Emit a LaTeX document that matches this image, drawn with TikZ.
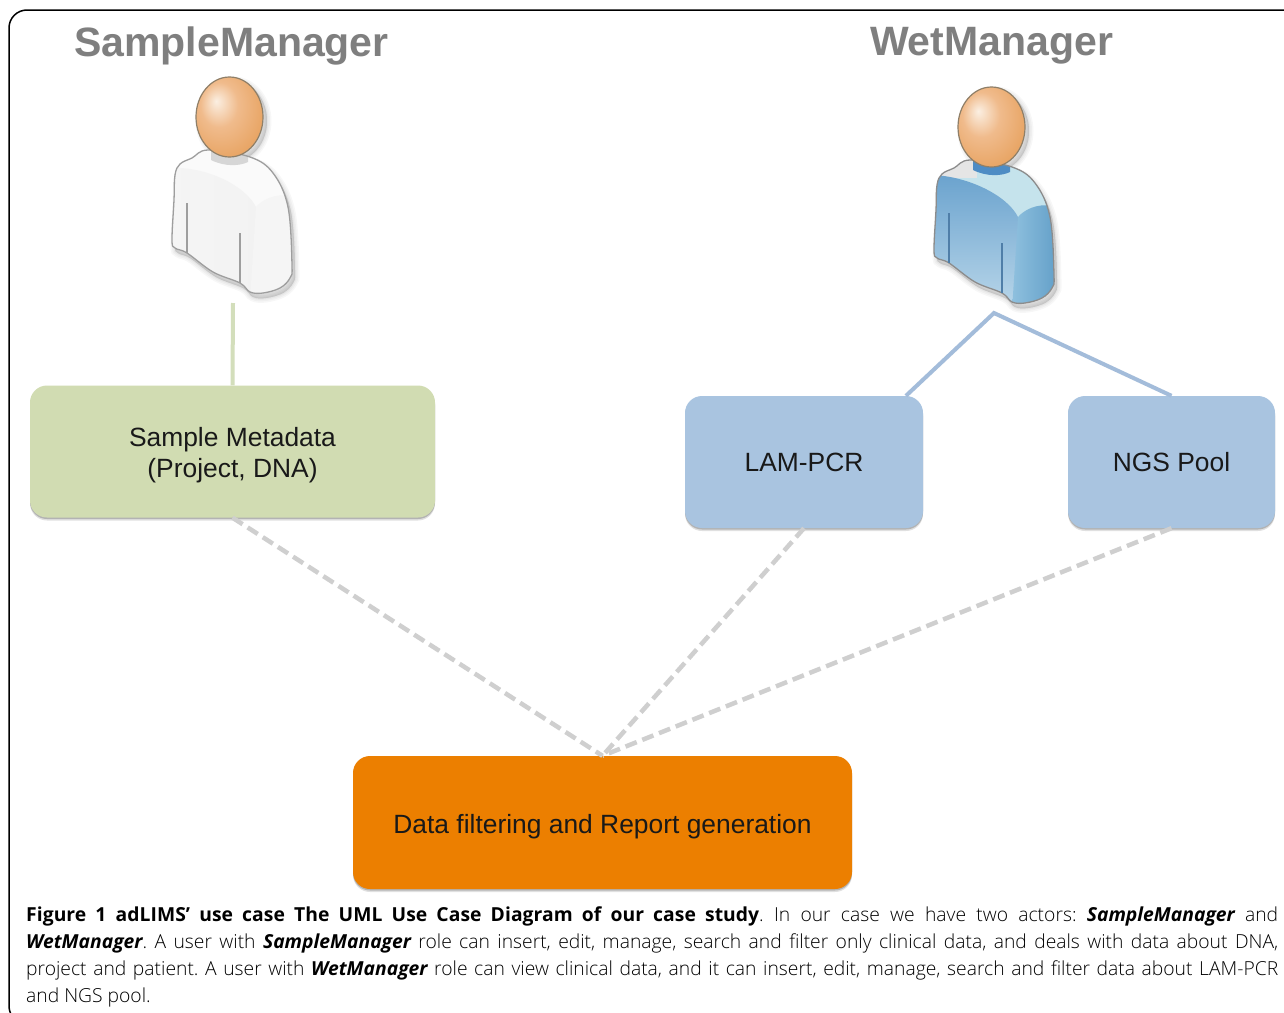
\documentclass[tikz,border=0pt]{standalone}
\usepackage{fontspec}
\setmainfont{Liberation Sans}
\newfontfamily\capfont{Open Sans Light}[BoldFont={Open Sans Bold},ItalicFont={Open Sans Light Italic},BoldItalicFont={Open Sans Bold Italic}]
\usetikzlibrary{
	shadows
}
\definecolor{greenbox}{HTML}{D1DCB2}
\definecolor{bluebox}{HTML}{A9C4E0}
\definecolor{orangebox}{HTML}{EC7F00}
\definecolor{greenline}{HTML}{D3DEBB}
\definecolor{blueline}{HTML}{A3BCDA}
\definecolor{dashline}{HTML}{CFCFCF}
\definecolor{titlegray}{HTML}{7F7F7F}
\definecolor{headlight}{HTML}{FBEFE2}
\definecolor{headmid}{HTML}{F0BB8C}
\definecolor{headdark}{HTML}{DF8C38}
\definecolor{headline}{HTML}{8F7F68}
\definecolor{coatlight}{HTML}{BAD7EA}
\definecolor{coatdark}{HTML}{6BA3CE}
\definecolor{armlight}{HTML}{8FC0DE}
\definecolor{armdark}{HTML}{5E9CC6}
\definecolor{collar}{HTML}{C5E3EC}
\definecolor{neck}{HTML}{4E8CC4}
\definecolor{foldblue}{HTML}{4F7EA8}
\pgfdeclareradialshading{headball}{\pgfpoint{-10bp}{10bp}}{
	color(0bp)=(headlight);
	color(14bp)=(headmid);
	color(50bp)=(headdark);
	color(60bp)=(headdark)
}
\def\actorbody{plot[smooth cycle,tension=0.6] coordinates {(208,150) (192,158) (180,164) (175,175) (174,200) (172,240) (175,248) (187,253) (213,272) (240,283) (250,292) (263,293) (280,288) (290,278) (292,265) (288,207) (273,173) (250,157)}}
\tikzset{
	box/.style={minimum height=132pt,inner sep=0pt,rounded corners=17pt,align=center,
		font=\fontsize{26.4}{31}\selectfont,text=black!90,
		drop shadow={shadow xshift=0pt,shadow yshift=-3pt,opacity=0.12,fill=black},
		drop shadow={shadow xshift=0pt,shadow yshift=-1.5pt,opacity=0.2,fill=black}},
	title/.style={font=\fontsize{41}{41}\selectfont\bfseries,text=titlegray,inner sep=0pt},
	solidline/.style={line width=4pt},
	dashline/.style={line width=4.5pt,draw=dashline,dash pattern=on 12pt off 6pt},
	softshadow/.style={draw=black,fill=black,opacity=0.03},
	outline/.style={draw=#1,line width=1.3pt},
	head/.style={shading=headball,draw=headline,line width=1.2pt}
}
\begin{document}
\begin{tikzpicture}[x=1pt,y=-1pt]
	% Frame
	\clip (0,0) rectangle (1284,1012);
	\fill[white] (0,0) rectangle (1284,1012);
	\draw[line width=1.5pt,rounded corners=18pt] (9,10) rectangle (1320,1024);
	% Titles
	\node[title] (sampletitle) at (231.5,46) {SampleManager};
	\node[title] (wettitle) at (991.5,46) {WetManager};
	% Connectors end here
	\coordinate (sampleend) at (233,303);
	\coordinate (wetend) at (994,313);
	% Use cases
	\node[box,fill=greenbox,minimum width=405pt] (metadata) at (232.5,451.5) {\raisebox{-4pt}[\height][\depth]{Sample Metadata}\\\raisebox{-4pt}[\height][\depth]{(Project, DNA)}};
	\node[box,fill=bluebox,minimum width=238pt] (lampcr) at (804,462) {LAM-PCR};
	\node[box,fill=bluebox,minimum width=207pt] (ngspool) at (1171.5,462) {NGS Pool};
	\node[box,fill=orangebox,minimum width=499pt,minimum height=133pt] (report) at (602.5,822.5) {\raisebox{-4pt}[\height][\depth]{Data filtering and Report generation}};
	% Solid lines
	\draw[solidline,draw=greenline] (sampleend) -- (metadata.north);
	\draw[solidline,draw=blueline] (lampcr.33) -- (wetend) -- (ngspool.north);
	% Dashed lines
	\draw[dashline] (metadata.south) -- (report.north);
	\draw[dashline] (lampcr.south) -- (report.north);
	\draw[dashline] (ngspool.south) -- (report.north);
	% SampleManager actor
	\foreach \w in {9,6,3,1} {
		\draw[softshadow,line width=\w pt,shift={(3,5)}] \actorbody;
		\draw[softshadow,line width=\w pt,shift={(4,4)}] (229.5,117) ellipse (33.5 and 40);
	}
	\fill[black!2] \actorbody;
	\begin{scope}
		\clip \actorbody;
		\shade[left color=black!4,right color=black!5] (170,168) .. controls (205,166) and (245,185) .. (256,207) -- (256,300) -- (170,300) -- cycle;
		\fill[black!4] (256,207) .. controls (262,200) and (275,193) .. (290,196) -- (300,196) -- (300,300) -- (250,300) -- cycle;
		\fill[black!16] (211,150) -- (211,160) .. controls (225,167) and (240,166) .. (248,162) -- (248,150) -- cycle;
	\end{scope}
	\draw[outline=black!38] \actorbody;
	\draw[outline=black!38] (187,203) -- (187,253);
	\draw[outline=black!38] (240,233) -- (240,283);
	\draw[head] (229.5,117) ellipse (33.5 and 40);
	% WetManager actor
	\begin{scope}[shift={(762,10)}]
		\foreach \w in {9,6,3,1} {
			\draw[softshadow,line width=\w pt,shift={(3,5)}] \actorbody;
			\draw[softshadow,line width=\w pt,shift={(4,4)}] (229.5,117) ellipse (33.5 and 40);
		}
		\fill[collar] \actorbody;
		\begin{scope}
			\clip \actorbody;
			\fill[black!10] (170,150) rectangle (215,168);
			\shade[shading angle=-40,top color=coatdark,bottom color=coatlight] (170,165) .. controls (205,166) and (245,185) .. (256,207) -- (256,300) -- (170,300) -- cycle;
			\shade[left color=armlight,right color=armdark] (256,207) .. controls (262,200) and (275,193) .. (290,196) -- (300,196) -- (300,300) -- (250,300) -- cycle;
			\fill[neck] (211,150) -- (211,160) .. controls (225,167) and (240,166) .. (248,162) -- (248,150) -- cycle;
		\end{scope}
		\draw[outline=black!45] \actorbody;
		\draw[outline=foldblue] (187,203) -- (187,253);
		\draw[outline=foldblue] (240,233) -- (240,283);
		\draw[head] (229.5,117) ellipse (33.5 and 40);
	\end{scope}
	% Caption
	\node[anchor=north west,inner sep=0pt,text width=1252pt,align=justify,font=\capfont\frenchspacing\fontsize{19.3}{27}\selectfont] (caption) at (26,907) {%
		\makebox[733pt][s]{\bfseries\addfontfeature{LetterSpace=0.3}Figure 1 adLIMS’ use case The UML Use Case Diagram of our case study}. In our case we have two actors: {\bfseries\itshape SampleManager} and\linebreak
		{\bfseries\itshape WetManager}. A user with {\bfseries\itshape SampleManager} role can insert, edit, manage, search and filter only clinical data, and deals with data about DNA,\linebreak
		project and patient. A user with {\bfseries\itshape WetManager} role can view clinical data, and it can insert, edit, manage, search and filter data about LAM-PCR\linebreak
		and NGS pool.};
\end{tikzpicture}
\end{document}
